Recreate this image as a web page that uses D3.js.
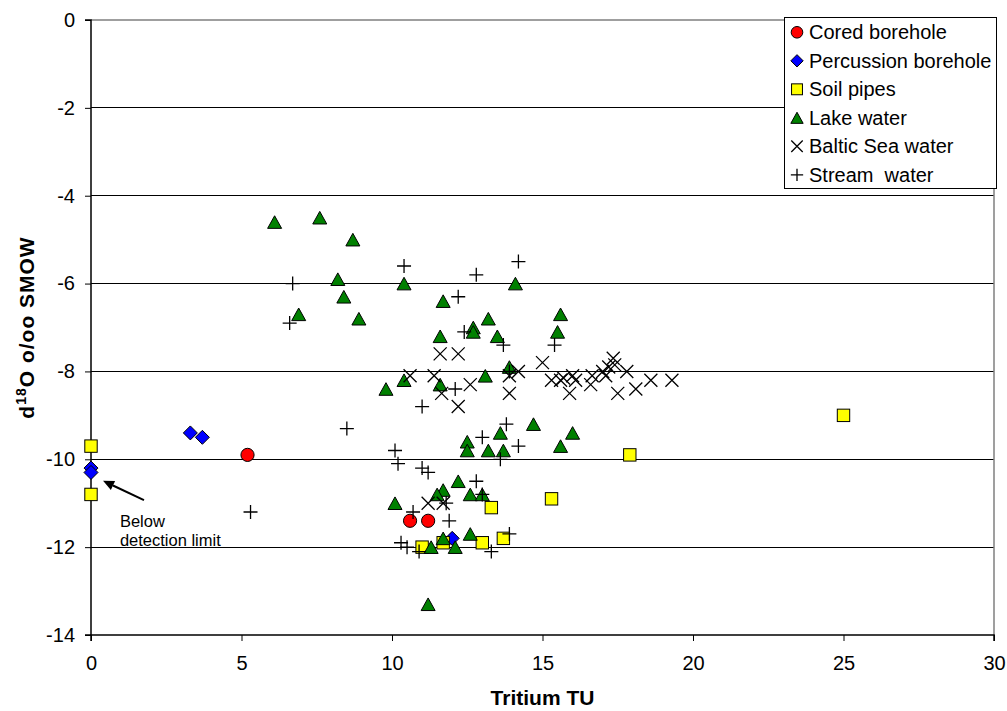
<!DOCTYPE html>
<html>
<head>
<meta charset="utf-8">
<script src="https://cdn.jsdelivr.net/npm/d3@7"></script>
<style>
  html, body { margin: 0; padding: 0; background: #fff; }
  svg { display: block; font-family: "Liberation Sans", Arial, sans-serif; }
</style>
</head>
<body>
<svg id="chart" width="1007" height="711"></svg>
<script>
// Tritium (TU) vs d18O (o/oo SMOW) for each water type
const cored = [[5.2,-9.9],[10.6,-11.4],[11.2,-11.4]];
const percussion = [[3.3,-9.4],[3.7,-9.5],[0,-10.2],[0,-10.3],[12.0,-11.8]];
const soilPipes = [[0,-9.7],[0,-10.8],[17.9,-9.9],[25.0,-9.0],[15.3,-10.9],[13.3,-11.1],
  [13.0,-11.9],[13.7,-11.8],[11.0,-12.0],[11.7,-11.9]];
const lakeWater = [[6.1,-4.6],[7.6,-4.5],[8.7,-5.0],[8.2,-5.9],[8.4,-6.3],[6.9,-6.7],[8.9,-6.8],
  [10.4,-6.0],[14.1,-6.0],[11.7,-6.4],[13.2,-6.8],[12.7,-7.0],[12.7,-7.1],[13.5,-7.2],[11.6,-7.2],
  [15.6,-6.7],[15.5,-7.1],[13.9,-7.9],[13.1,-8.1],[10.4,-8.2],[9.8,-8.4],[11.6,-8.3],
  [14.7,-9.2],[16.0,-9.4],[13.6,-9.4],[12.5,-9.6],[12.5,-9.8],[13.2,-9.8],[13.7,-9.8],[15.6,-9.7],
  [12.2,-10.5],[10.1,-11.0],[11.7,-10.7],[11.5,-10.8],[12.6,-10.8],[13.0,-10.8],
  [12.6,-11.7],[11.7,-11.8],[11.3,-12.0],[12.1,-12.0],[11.2,-13.3]];
const balticSea = [[11.6,-7.6],[12.2,-7.6],[10.6,-8.1],[11.4,-8.1],[11.65,-8.5],[12.6,-8.3],
  [12.2,-8.8],[13.9,-8.1],[13.9,-8.5],[14.2,-8.0],[15.0,-7.8],[15.3,-8.2],[15.6,-8.2],[15.7,-8.15],
  [15.9,-8.5],[16.0,-8.1],[16.1,-8.2],[16.6,-8.3],[16.65,-8.1],[17.0,-8.0],[17.1,-8.1],[17.2,-7.9],
  [17.35,-7.7],[17.4,-7.85],[17.5,-8.5],[17.8,-8.0],[18.1,-8.4],[18.6,-8.2],[19.3,-8.2],
  [11.2,-11.0],[11.7,-11.0]];
const streamWater = [[6.7,-6.0],[6.6,-6.9],[10.4,-5.6],[14.2,-5.5],[12.8,-5.8],[12.2,-6.3],
  [12.4,-7.1],[13.7,-7.4],[15.4,-7.4],[13.9,-8.0],[12.1,-8.4],[11.0,-8.8],[8.5,-9.3],[13.8,-9.2],
  [13.0,-9.5],[14.2,-9.7],[13.6,-10.0],[10.1,-9.8],[10.2,-10.1],[11.0,-10.2],[11.2,-10.3],
  [12.8,-10.5],[13.0,-10.8],[10.7,-11.2],[11.8,-11.0],[11.9,-11.4],[13.9,-11.7],[10.3,-11.9],
  [10.5,-12.0],[10.9,-12.1],[13.3,-12.1],[5.3,-11.2]];

const seriesNames = ["Cored borehole","Percussion borehole","Soil pipes","Lake water","Baltic Sea water","Stream  water"];
const xTicks = [0,5,10,15,20,25,30];
const yTicks = [0,-2,-4,-6,-8,-10,-12,-14];

const series = [
  {name: seriesNames[0], data: cored, shape: "circle", fill: "#ff0000"},
  {name: seriesNames[1], data: percussion, shape: "diamond", fill: "#0000ff"},
  {name: seriesNames[2], data: soilPipes, shape: "square", fill: "#ffff00"},
  {name: seriesNames[3], data: lakeWater, shape: "triangle", fill: "#008000"},
  {name: seriesNames[4], data: balticSea, shape: "cross", fill: "none"},
  {name: seriesNames[5], data: streamWater, shape: "plus", fill: "none"}
];

const svg = d3.select("#chart");
svg.append("rect").attr("width", 1007).attr("height", 711).attr("fill", "#fff");

const plot = {left: 91, right: 994, top: 20, bottom: 635};
const x = d3.scaleLinear().domain([0, 30]).range([plot.left, plot.right]);
const y = d3.scaleLinear().domain([-14, 0]).range([plot.bottom, plot.top]);

// horizontal gridlines
svg.append("g").selectAll("line")
  .data(yTicks.filter(v => v !== 0 && v !== -14))
  .join("line")
  .attr("x1", plot.left).attr("x2", plot.right)
  .attr("y1", d => y(d)).attr("y2", d => y(d))
  .attr("stroke", "#000").attr("stroke-width", 1).attr("shape-rendering", "crispEdges");

// plot-area border (top and right)
svg.append("path")
  .attr("d", `M${plot.left},${y(0)}H${plot.right}V${plot.bottom}`)
  .attr("fill", "none").attr("stroke", "#808080").attr("stroke-width", 1.5);

// axes
const fmt = d => String(d);
const yAxis = svg.append("g")
  .attr("transform", `translate(${plot.left},0)`)
  .call(d3.axisLeft(y).tickValues(yTicks).tickFormat(fmt).tickSize(6).tickPadding(10));
const xAxis = svg.append("g")
  .attr("transform", `translate(0,${plot.bottom})`)
  .call(d3.axisBottom(x).tickValues(xTicks).tickFormat(fmt).tickSize(6).tickPadding(15));

[yAxis, xAxis].forEach(g => {
  g.select(".domain").attr("stroke", "#000").attr("stroke-width", 1.5);
  g.selectAll(".tick line").attr("stroke", "#000").attr("stroke-width", 1);
  g.selectAll(".tick text").attr("fill", "#000")
    .style("font-size", "20px").style("font-family", "'Liberation Sans', Arial, sans-serif");
});
yAxis.select(".domain").attr("d", `M-6,${plot.top}H0V${plot.bottom}H-6`);
xAxis.select(".domain").attr("d", `M${plot.left},6V0H${plot.right}V6`);

// marker shapes
function drawMarker(g, shape, fill, s) {
  const k = s || 1;
  if (shape === "circle") {
    g.append("circle").attr("r", 6.6 * k).attr("fill", fill).attr("stroke", "#000").attr("stroke-width", 1);
  } else if (shape === "diamond") {
    const r = 7 * k;
    g.append("path").attr("d", `M0,${-r}L${r},0L0,${r}L${-r},0Z`)
      .attr("fill", fill).attr("stroke", "#000").attr("stroke-width", 1);
  } else if (shape === "square") {
    const h = 6.2 * k;
    g.append("rect").attr("x", -h).attr("y", -h).attr("width", 2 * h).attr("height", 2 * h)
      .attr("fill", fill).attr("stroke", "#000").attr("stroke-width", 1);
  } else if (shape === "triangle") {
    const w = 7 * k, h = 6.3 * k;
    g.append("path").attr("d", `M0,${-h}L${w},${h}L${-w},${h}Z`)
      .attr("fill", fill).attr("stroke", "#000").attr("stroke-width", 1).attr("stroke-linejoin", "miter");
  } else if (shape === "cross") {
    const r = 6.5 * k;
    g.append("path").attr("d", `M${-r},${-r}L${r},${r}M${-r},${r}L${r},${-r}`)
      .attr("fill", "none").attr("stroke", "#000").attr("stroke-width", 1.3);
  } else if (shape === "plus") {
    const r = 7 * k;
    g.append("path").attr("d", `M${-r},0H${r}M0,${-r}V${r}`)
      .attr("fill", "none").attr("stroke", "#000").attr("stroke-width", 1.3);
  }
}

// data points
series.forEach(s => {
  const g = svg.append("g").attr("class", "series");
  s.data.forEach(d => {
    const m = g.append("g").attr("transform", `translate(${x(d[0])},${y(d[1])})`);
    drawMarker(m, s.shape, s.fill, 1);
  });
});

// legend
const legend = svg.append("g");
legend.append("rect")
  .attr("x", 784.5).attr("y", 17.5).attr("width", 212).attr("height", 171)
  .attr("fill", "#fff").attr("stroke", "#000").attr("stroke-width", 1);
series.forEach((s, i) => {
  const cy = 32.3 + i * 28.5;
  const m = legend.append("g").attr("transform", `translate(797,${cy})`);
  drawMarker(m, s.shape, s.fill, 0.88);
  legend.append("text")
    .attr("x", 809).attr("y", cy + 7)
    .attr("font-size", 20).attr("fill", "#000")
    .attr("xml:space", "preserve")
    .style("white-space", "pre")
    .text(s.name);
});

// annotation for values below the detection limit
const arrowFrom = [1.76, -10.93], arrowTo = [0.40, -10.49];
const ax1 = x(arrowFrom[0]), ay1 = y(arrowFrom[1]);
const ax2 = x(arrowTo[0]), ay2 = y(arrowTo[1]);
const ang = Math.atan2(ay2 - ay1, ax2 - ax1);
const headLen = 11, headHalf = 5;
const bx = ax2 - headLen * Math.cos(ang), by = ay2 - headLen * Math.sin(ang);
svg.append("line")
  .attr("x1", ax1).attr("y1", ay1).attr("x2", bx).attr("y2", by)
  .attr("stroke", "#000").attr("stroke-width", 2);
svg.append("path")
  .attr("d", `M${ax2},${ay2}L${bx + headHalf * Math.sin(ang)},${by - headHalf * Math.cos(ang)}L${bx - headHalf * Math.sin(ang)},${by + headHalf * Math.cos(ang)}Z`)
  .attr("fill", "#000");
const note = svg.append("text").attr("font-size", 16.5).attr("fill", "#000");
note.append("tspan").attr("x", x(0.96)).attr("y", y(-11.54)).text("Below");
note.append("tspan").attr("x", x(0.96)).attr("y", y(-11.97)).text("detection limit");

// axis titles
svg.append("text")
  .attr("x", (plot.left + plot.right) / 2).attr("y", 704.5)
  .attr("text-anchor", "middle").attr("font-size", 21).attr("font-weight", "bold")
  .text("Tritium TU");

const yTitle = svg.append("text")
  .attr("transform", `translate(33.5,${(plot.top + plot.bottom) / 2}) rotate(-90)`)
  .attr("text-anchor", "middle").attr("font-size", 21).attr("font-weight", "bold")
  .attr("letter-spacing", 1);
yTitle.append("tspan").text("d");
yTitle.append("tspan").attr("font-size", 14).attr("dy", -8).text("18");
yTitle.append("tspan").attr("dy", 8).text("O o/oo SMOW");
</script>
</body>
</html>
